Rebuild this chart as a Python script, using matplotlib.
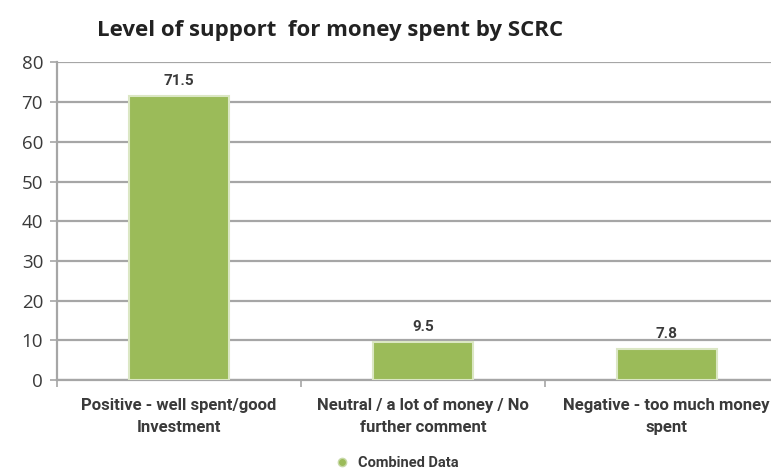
import matplotlib.pyplot as plt
from matplotlib.lines import Line2D

# survey responses, percentage of all replies
categories = ['Positive - well spent/good\nInvestment',
              'Neutral / a lot of money / No\nfurther comment',
              'Negative - too much money\nspent']
support = [71.5, 9.5, 7.8]
y_ticks = [0, 10, 20, 30, 40, 50, 60, 70, 80]

bar_green = '#9bbb59'
grid_grey = '#a6a6a6'
text_col = '#3a3a3a'
font = ['Roboto', 'DejaVu Sans']

fig = plt.figure(figsize=(7.71, 4.76), dpi=100)
ax = fig.add_axes([0.0739, 0.2017, 0.949, 0.667])

x = range(len(categories))
ax.bar(x, support, width=0.41, color=bar_green, edgecolor='#dbe7c4',
       linewidth=1.5, zorder=3)

for xi, v in zip(x, support):
    ax.annotate(str(v), (xi, v), xytext=(0, 6), textcoords='offset points',
                ha='center', va='bottom', fontsize=11, fontweight='bold',
                color=text_col, family=font)

ax.set_xlim(-0.5, 2.5)
ax.set_ylim(0, 80)
ax.set_yticks(y_ticks)
ax.set_yticklabels([str(t) for t in y_ticks], fontsize=13.5, color=text_col,
                   family=['Open Sans', 'DejaVu Sans'])
ax.yaxis.grid(True, color=grid_grey, linewidth=1.6, zorder=0)
ax.tick_params(axis='y', length=5, color=grid_grey, width=1.2, pad=5)

# category labels at centres, tick marks at the boundaries
ax.set_xticks(list(x))
ax.set_xticklabels(categories, fontsize=12, fontweight='bold',
                   color=text_col, family=font, linespacing=1.6)
ax.tick_params(axis='x', length=0, pad=13)
ax.set_xticks([-0.5, 0.5, 1.5, 2.5], minor=True)
ax.tick_params(axis='x', which='minor', length=5, color=grid_grey, width=1.2)

for side in ['top', 'right']:
    ax.spines[side].set_visible(False)
ax.spines['left'].set_color(grid_grey)
ax.spines['left'].set_linewidth(1.6)
ax.spines['bottom'].set_color(grid_grey)
ax.spines['bottom'].set_linewidth(1.6)

fig.text(0.428, 0.935, 'Level of support  for money spent by SCRC',
         ha='center', va='center', fontsize=16, fontweight='bold',
         color='#222222', family=['Open Sans', 'DejaVu Sans'])

handle = Line2D([], [], marker='o', linestyle='none', markersize=6,
                markerfacecolor=bar_green, markeredgecolor='#c8d9a8')
fig.legend([handle], ['Combined Data'], loc='center',
           bbox_to_anchor=(0.51, 0.027), frameon=False, handletextpad=0.1,
           prop={'family': font, 'size': 10.5, 'weight': 'bold'},
           labelcolor=text_col)

fig.savefig('out.png', dpi=100)
